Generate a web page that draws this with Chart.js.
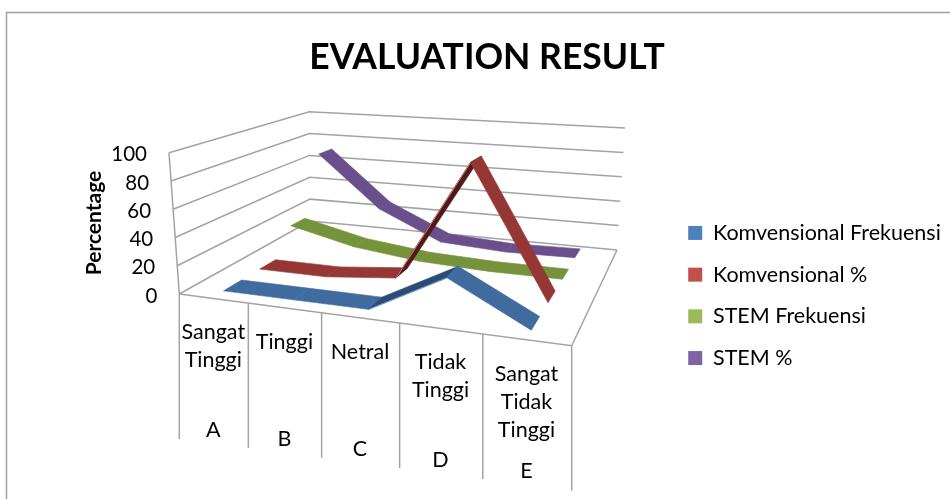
<!DOCTYPE html>
<html><head><meta charset="utf-8">
<style>html,body{margin:0;padding:0;background:#fff;overflow:hidden}canvas{display:block}</style>
<script src="https://cdn.jsdelivr.net/npm/chart.js@4"></script>
</head><body><canvas id="c" width="950" height="499"></canvas>
<script>
const chartTitle = "EVALUATION RESULT";
const axisTitle = "Percentage";
const categories = [["Sangat","Tinggi"],["Tinggi"],["Netral"],["Tidak","Tinggi"],["Sangat","Tidak","Tinggi"]];
const groups = ["A","B","C","D","E"];
const seriesNames = ["Komvensional Frekuensi","Komvensional %","STEM Frekuensi","STEM %"];
const komvensionalFrekuensi = [1,1,1,28,1];
const komvensionalPersen = [1,1,6,93,1];
const stemFrekuensi = [21,9,3,1,1];
const stemPersen = [70,27,4,1,2];
const valueTicks = [0,20,40,60,80,100];
const seriesValues = [komvensionalFrekuensi,komvensionalPersen,stemFrekuensi,stemPersen];

const legendColors = ["#4F81BD","#C0504D","#9BBB59","#8064A2"];
const ribbonColors = ["#3F6B9F","#953735","#76933C","#694F8B"];
const risingColors = ["#2C4C75","#4E1B19","#76933C","#694F8B"];
const risingEdge = ["#5B93D6","#D9807C",null,null];
const GRID = "#a3a3a3", RIBBON_HALF_DEPTH = 0.06;

function squareToQuad(q){
  const [[x0,y0],[x1,y1],[x2,y2],[x3,y3]] = q;
  const dx1=x1-x2,dx2=x3-x2,dy1=y1-y2,dy2=y3-y2,sx=x0-x1+x2-x3,sy=y0-y1+y2-y3;
  const den=dx1*dy2-dx2*dy1, g=(sx*dy2-dx2*sy)/den, h=(dx1*sy-sx*dy1)/den;
  const a=x1-x0+g*x1,b=x3-x0+h*x3,d=y1-y0+g*y1,e=y3-y0+h*y3;
  return (u,v)=>{const w=g*u+h*v+1;return [(a*u+b*v+x0)/w,(d*u+e*v+y0)/w];};
}
const floorMap = squareToQuad([[179.3,294],[571.7,345.7],[617,250],[310,221]]);
const ceilMap  = squareToQuad([[169,152.7],[565,178],[625,128],[309.3,111.7]]);
function project(u,v,val){
  const f=floorMap(u,v), t=ceilMap(u,v), k=val/100;
  return {x:f[0]+(t[0]-f[0])*k, y:f[1]+(t[1]-f[1])*k};
}
const nCat = categories.length, nSer = seriesValues.length;
const catU = j => (j+0.5)/nCat;
const serV = i => (i+0.5)/nSer;

function ribbonPoints(vals,i){
  const front = vals.map((val,j)=>project(catU(j),serV(i)-RIBBON_HALF_DEPTH,val));
  const back  = vals.map((val,j)=>project(catU(j),serV(i)+RIBBON_HALF_DEPTH,val));
  return front.concat(back.reverse());
}
function gridPoints(){
  const pts=[], gap={x:null,y:null};
  valueTicks.forEach(t=>{ pts.push(project(0,0,t),project(0,1,t),project(1,1,t),gap); });
  pts.push(project(0,0,0),project(0,0,100),gap);
  pts.push(project(0,0,0),project(1,0,0),project(1,1,0),gap);
  for(let j=0;j<=nCat;j++){
    const p=project(j/nCat,0,0);
    pts.push(p,{x:p.x,y:p.y+145},gap);
  }
  return pts;
}
const datasets = seriesNames.map((name,i)=>({
  label:name, ribbon:i, data:ribbonPoints(seriesValues[i],i),
  backgroundColor:legendColors[i], borderColor:legendColors[i], borderWidth:0,
  showLine:false, pointRadius:0, clip:false
}));
datasets.push({label:"grid",data:gridPoints(),showLine:true,spanGaps:false,borderColor:GRID,
  backgroundColor:GRID,borderWidth:1.5,pointRadius:0,clip:false});

const LEGEND_SHIFT_X=0.8, LEGEND_SHIFT_Y=46;
const plugin3d = {
  id:"plot3d",
  afterLayout(chart){
    const x=chart.scales.x,y=chart.scales.y;
    x.min=x.left;x.max=x.right;x.configure();
    y.min=y.top;y.max=y.bottom;y.configure();
    chart.legend.left+=LEGEND_SHIFT_X; chart.legend.top+=LEGEND_SHIFT_Y; chart.legend.bottom+=LEGEND_SHIFT_Y;
  },
  beforeDraw(chart){
    const c=chart.ctx;
    c.save();c.fillStyle="#fff";c.fillRect(0,0,950,499);
    c.strokeStyle="#a0a0a0";c.lineWidth=1.5;
    c.beginPath();c.moveTo(6.5,499);c.lineTo(6.5,12.5);c.lineTo(950,12.5);c.stroke();
    c.restore();
  },
  beforeDatasetDraw(chart,args){
    const i=chart.data.datasets[args.index].ribbon;
    if(i===undefined) return;
    const c=chart.ctx, pts=args.meta.data, n=pts.length/2, vals=seriesValues[i];
    c.save();
    for(let j=0;j<n-1;j++){
      const a=pts[j],b=pts[j+1],d=pts[2*n-1-j],e=pts[2*n-2-j];
      const rising=vals[j+1]-vals[j]>5;
      c.fillStyle=rising?risingColors[i]:ribbonColors[i];
      c.strokeStyle=c.fillStyle;c.lineWidth=0.6;
      c.beginPath();c.moveTo(a.x,a.y);c.lineTo(b.x,b.y);c.lineTo(e.x,e.y);c.lineTo(d.x,d.y);c.closePath();c.fill();c.stroke();
      if(rising&&risingEdge[i]){
        c.strokeStyle=risingEdge[i];c.lineWidth=1;
        c.beginPath();c.moveTo(a.x,a.y+0.5);c.lineTo(b.x,b.y+0.5);c.stroke();
      }
    }
    c.restore();
  },
  afterDraw(chart){
    const c=chart.ctx;
    c.save();
    c.fillStyle="#000";c.textBaseline="middle";
    c.font="20.5px Lato";c.textAlign="right";
    valueTicks.forEach(t=>{const p=project(0,0,t);c.fillText(String(t),p.x-22,p.y+2);});
    c.textAlign="center";
    c.font="21.5px Lato";
    categories.forEach((lines,j)=>{
      const p=project(catU(j),0,0);
      lines.forEach((s,k)=>c.fillText(s,p.x,p.y+34+28*k));
      c.fillText(groups[j],p.x,p.y+131.5);
    });
    c.save();c.translate(94,223);c.rotate(-Math.PI/2);c.font="bold 21px Lato";c.fillText(axisTitle,0,0);c.restore();
    c.restore();
  }
};

Chart.defaults.font.family="Lato";
new Chart(document.getElementById("c"),{
  type:"scatter",
  data:{datasets},
  plugins:[plugin3d],
  options:{
    responsive:false,animation:false,events:[],
    layout:{padding:{left:24,right:0,top:0,bottom:0}},
    scales:{
      x:{type:"linear",display:false,bounds:"data"},
      y:{type:"linear",display:false,reverse:true,bounds:"data"}
    },
    plugins:{
      tooltip:{enabled:false},
      title:{display:true,text:chartTitle,color:"#000",font:{family:"Lato",size:35.5,weight:"bold"},padding:{top:36,bottom:10}},
      legend:{display:true,position:"right",align:"center",
        labels:{color:"#000",font:{family:"Lato",size:21.5},boxWidth:14,boxHeight:14,padding:20.2,
          filter:item=>item.datasetIndex<seriesNames.length}}
    }
  }
});
</script></body></html>
